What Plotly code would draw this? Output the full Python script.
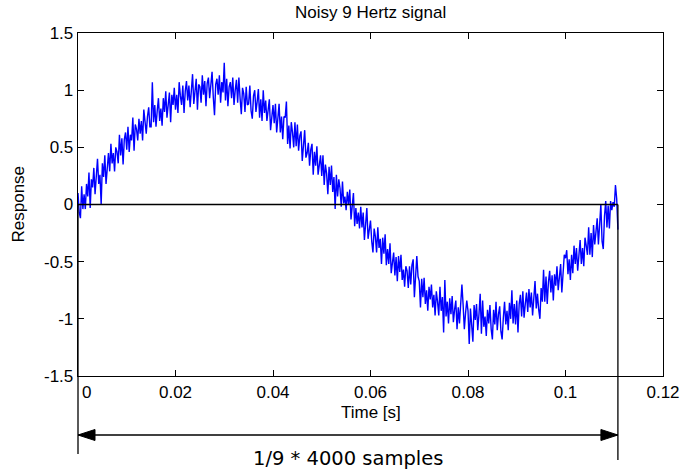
import plotly.graph_objects as go

# ---------------- data ----------------
sample_rate = 4000  # samples per second
signal = [
    0.10, -0.07, -0.12, 0.16, -0.04, 0.09, -0.04, 0.18, 0.07, 0.28,
    -0.03, 0.22, 0.15, 0.32, 0.09, 0.24, 0.40, 0.18, 0.26, 0.00,
    0.36, 0.24, 0.43, 0.18, 0.37, 0.45, 0.29, 0.53, 0.36, 0.45,
    0.29, 0.50, 0.46, 0.36, 0.61, 0.43, 0.58, 0.35, 0.57, 0.63,
    0.48, 0.68, 0.46, 0.61, 0.56, 0.76, 0.47, 0.70, 0.66, 0.56,
    0.75, 0.62, 0.73, 0.56, 0.83, 0.71, 0.62, 0.77, 0.85, 0.68,
    0.68, 1.07, 0.72, 0.87, 0.68, 0.82, 0.93, 0.73, 0.84, 0.69,
    0.93, 0.81, 0.99, 0.76, 0.91, 0.98, 0.72, 0.96, 0.87, 1.02,
    0.83, 0.96, 0.80, 1.07, 0.95, 0.87, 1.04, 0.80, 0.99, 1.08,
    0.91, 1.04, 0.85, 1.00, 1.14, 0.88, 0.99, 1.10, 0.83, 1.05,
    1.03, 0.89, 1.13, 0.96, 1.08, 0.86, 1.06, 1.11, 0.93, 1.02,
    1.16, 0.94, 0.78, 1.05, 1.10, 0.96, 1.13, 0.89, 1.07, 0.98,
    1.24, 0.91, 1.10, 0.86, 1.03, 1.07, 0.93, 1.11, 0.87, 1.00,
    1.09, 0.89, 1.11, 0.93, 0.79, 1.02, 0.97, 0.81, 1.03, 0.87,
    0.88, 1.04, 0.82, 0.75, 0.95, 1.00, 0.81, 0.90, 1.01, 0.76,
    0.92, 0.73, 1.00, 0.80, 0.91, 0.73, 0.85, 0.92, 0.65, 0.79,
    0.87, 0.71, 0.88, 0.63, 0.77, 0.88, 0.63, 0.77, 0.57, 0.77,
    0.76, 0.90, 0.53, 0.69, 0.49, 0.72, 0.63, 0.50, 0.72, 0.51,
    0.70, 0.47, 0.60, 0.64, 0.38, 0.54, 0.65, 0.41, 0.45, 0.54,
    0.34, 0.48, 0.53, 0.26, 0.46, 0.34, 0.51, 0.26, 0.37, 0.43,
    0.25, 0.43, 0.17, 0.35, 0.27, 0.09, 0.33, 0.17, 0.34, 0.11,
    0.24, -0.04, 0.26, 0.07, 0.22, 0.14, -0.02, 0.20, 0.01, 0.07,
    -0.05, 0.11, 0.00, 0.13, -0.13, -0.03, 0.10, -0.19, -0.03, -0.17,
    -0.07, -0.21, -0.02, -0.20, -0.07, -0.31, -0.12, -0.03, -0.30, -0.21,
    -0.14, -0.32, -0.42, -0.21, -0.28, -0.42, -0.20, -0.38, -0.30, -0.52,
    -0.29, -0.43, -0.26, -0.53, -0.39, -0.52, -0.34, -0.60, -0.47, -0.42,
    -0.62, -0.46, -0.67, -0.45, -0.59, -0.44, -0.66, -0.57, -0.72, -0.54,
    -0.58, -0.73, -0.54, -0.70, -0.53, -0.48, -0.81, -0.67, -0.45, -0.63,
    -0.67, -0.90, -0.65, -0.81, -0.64, -0.87, -0.75, -0.93, -0.72, -0.83,
    -0.70, -0.90, -0.79, -0.97, -0.76, -0.85, -0.97, -0.72, -0.93, -0.81,
    -1.12, -0.66, -0.98, -0.85, -1.04, -0.82, -0.96, -0.80, -1.03, -0.92,
    -0.84, -1.09, -0.90, -1.04, -0.80, -0.70, -0.88, -1.09, -0.95, -0.84,
    -0.93, -1.22, -0.91, -1.05, -1.20, -0.88, -1.01, -0.87, -1.10, -0.96,
    -0.78, -1.13, -0.84, -1.07, -0.98, -1.15, -0.92, -1.04, -0.88, -1.09,
    -1.18, -0.92, -1.05, -0.85, -1.10, -0.96, -0.89, -1.11, -1.18, -0.99,
    -0.85, -1.05, -0.93, -1.10, -0.86, -1.00, -0.75, -1.04, -0.87, -1.05,
    -0.84, -1.12, -0.87, -0.79, -0.98, -0.76, -0.99, -0.87, -0.77, -0.94,
    -0.74, -0.90, -0.77, -0.97, -0.78, -0.67, -0.91, -0.78, -0.92, -1.00,
    -0.73, -0.85, -0.57, -0.85, -0.63, -0.87, -0.68, -0.58, -0.77, -0.62,
    -0.84, -0.61, -0.71, -0.54, -0.75, -0.59, -0.52, -0.77, -0.57, -0.44,
    -0.47, -0.40, -0.61, -0.48, -0.66, -0.44, -0.60, -0.36, -0.52, -0.38,
    -0.58, -0.39, -0.31, -0.52, -0.38, -0.54, -0.29, -0.36, -0.44, -0.20,
    -0.44, -0.25, -0.46, -0.18, -0.35, -0.24, -0.12, -0.35, -0.16, 0.00,
    -0.32, -0.39, -0.10, 0.03, -0.20, -0.01, -0.21, 0.03, -0.05, 0.02,
    -0.02, 0.17, 0.05, -0.22,
]
time_s = [i / sample_rate for i in range(len(signal))]

x_tick_vals = [0, 0.02, 0.04, 0.06, 0.08, 0.1, 0.12]
x_tick_text = ["\u00a0\u00a0\u00a0\u20090", "0.02", "0.04", "0.06", "0.08", "0.1", "0.12"]
y_tick_vals = [-1.5, -1, -0.5, 0, 0.5, 1, 1.5]
y_tick_text = ["-1.5", "-1", "-0.5", "0", "0.5", "1", "1.5"]
x_range = [0, 0.12]
y_range = [-1.5, 1.5]

title_text = "Noisy 9 Hertz signal"
x_label = "Time [s]"
y_label = "Response"
span_label = "1/9 * 4000 samples"

# ---------------- layout geometry (window pixels) ----------------
W, H = 680, 470
PLOT_L, PLOT_R, PLOT_T, PLOT_B = 78, 663, 33, 376
ML, MT, MR, MB = PLOT_L, PLOT_T, W - PLOT_R, H - PLOT_B
PW, PH = PLOT_R - PLOT_L, PLOT_B - PLOT_T
FONT = "Liberation Sans, Arial, sans-serif"


def px_x(px):
    return (px - PLOT_L) / PW


def px_y(py):
    return (PLOT_B - py) / PH


def dx(v):
    return (v - x_range[0]) / (x_range[1] - x_range[0])


def dy(v):
    return (v - y_range[0]) / (y_range[1] - y_range[0])


t_end = time_s[-1]

fig = go.Figure()
fig.add_trace(go.Scatter(
    x=time_s, y=signal, mode="lines",
    line=dict(color="#0000ff", width=1.4),
    showlegend=False, hoverinfo="skip",
))

axis_common = dict(
    showline=True, linecolor="black", linewidth=1.3, mirror="ticks",
    ticks="inside", ticklen=6, tickwidth=1, tickcolor="black",
    showgrid=False, zeroline=False, automargin=False,
    tickfont=dict(family=FONT, size=17, color="black"),
)

fig.update_xaxes(range=x_range, tickmode="array", tickvals=x_tick_vals,
                 ticktext=x_tick_text, **axis_common)
fig.update_yaxes(range=y_range, tickmode="array", tickvals=y_tick_vals,
                 ticktext=y_tick_text, **axis_common)

line_style = dict(color="black", width=1.3)
shapes = [
    # zero reference line over one period
    dict(type="line", xref="x", yref="y", x0=0, x1=t_end, y0=0, y1=0,
         line=line_style, layer="above"),
    # vertical markers at start / end of period
    dict(type="line", xref="paper", yref="paper", x0=dx(0), x1=dx(0),
         y0=dy(0), y1=px_y(454), line=line_style),
    dict(type="line", xref="paper", yref="paper", x0=dx(t_end), x1=dx(t_end),
         y0=dy(0), y1=px_y(460), line=line_style),
    # double arrow line
    dict(type="line", xref="paper", yref="paper", x0=dx(0), x1=dx(t_end),
         y0=px_y(435), y1=px_y(435), line=line_style),
]
ah_len = 17 / PW
ah_half = 5.5 / PH
ya = px_y(435)
xl, xr = dx(0), dx(t_end)
shapes.append(dict(
    type="path", xref="paper", yref="paper",
    path=f"M {xl},{ya} L {xl + ah_len},{ya + ah_half} L {xl + ah_len},{ya - ah_half} Z",
    fillcolor="black", line=dict(color="black", width=1),
))
shapes.append(dict(
    type="path", xref="paper", yref="paper",
    path=f"M {xr},{ya} L {xr - ah_len},{ya + ah_half} L {xr - ah_len},{ya - ah_half} Z",
    fillcolor="black", line=dict(color="black", width=1),
))

annotations = [
    dict(text=title_text, xref="paper", yref="paper", x=0.5, y=px_y(12.5),
         xanchor="center", yanchor="middle", showarrow=False,
         font=dict(family=FONT, size=17, color="black")),
    dict(text=x_label, xref="paper", yref="paper", x=0.5, y=px_y(412),
         xanchor="center", yanchor="middle", showarrow=False,
         font=dict(family=FONT, size=17, color="black")),
    dict(text=y_label, xref="paper", yref="paper", x=px_x(18), y=0.5,
         xanchor="center", yanchor="middle", showarrow=False, textangle=-90,
         font=dict(family=FONT, size=17, color="black")),
    dict(text=span_label, xref="paper", yref="paper", x=(xl + xr) / 2,
         y=px_y(458), xanchor="center", yanchor="middle", showarrow=False,
         font=dict(family="DejaVu Sans, sans-serif", size=19.5, color="black")),
]

fig.update_layout(
    width=W, height=H,
    margin=dict(l=ML, r=MR, t=MT, b=MB, pad=0, autoexpand=False),
    paper_bgcolor="white", plot_bgcolor="white",
    shapes=shapes, annotations=annotations,
    showlegend=False,
)

fig.write_html(
    "out.html",
    config={"displayModeBar": False, "staticPlot": True},
    post_script="document.body.style.margin='0';document.body.style.overflow='hidden';",
)
